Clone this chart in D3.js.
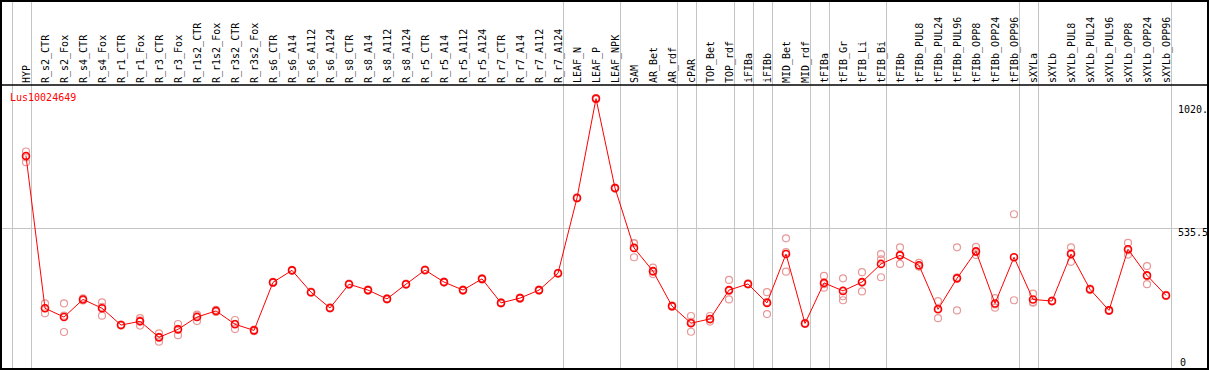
<!DOCTYPE html>
<html>
<head>
<meta charset="utf-8">
<script src="https://cdn.jsdelivr.net/npm/d3@7"></script>
<style>
    body { margin: 0; background: #fff; }
    svg { display: block; }
    text { font-family: "DejaVu Sans Mono", monospace; font-size: 10px; }
</style>
</head>
<body>
<svg id="chart" width="1209" height="370"></svg>
<script>
const geneName = "Lus10024649";

const categories = [
    "HYP", "R_s2_CTR", "R_s2_Fox", "R_s4_CTR", "R_s4_Fox", "R_r1_CTR", "R_r1_Fox",
    "R_r3_CTR", "R_r3_Fox", "R_r1s2_CTR", "R_r1s2_Fox", "R_r3s2_CTR", "R_r3s2_Fox",
    "R_s6_CTR", "R_s6_A14", "R_s6_A112", "R_s6_A124", "R_s8_CTR", "R_s8_A14",
    "R_s8_A112", "R_s8_A124", "R_r5_CTR", "R_r5_A14", "R_r5_A112", "R_r5_A124",
    "R_r7_CTR", "R_r7_A14", "R_r7_A112", "R_r7_A124", "LEAF_N", "LEAF_P", "LEAF_NPK",
    "SAM", "AR_Bet", "AR_rdf", "cPAR", "TOP_Bet", "TOP_rdf", "iFIBa", "iFIBb",
    "MID_Bet", "MID_rdf", "tFIBa", "tFIB_Gr", "tFIB_Li", "tFIB_Bi", "tFIBb",
    "tFIBb_PUL8", "tFIBb_PUL24", "tFIBb_PUL96", "tFIBb_OPP8", "tFIBb_OPP24",
    "tFIBb_OPP96", "sXYLa", "sXYLb", "sXYLb_PUL8", "sXYLb_PUL24", "sXYLb_PUL96",
    "sXYLb_OPP8", "sXYLb_OPP24", "sXYLb_OPP96"
];

// mean expression per sample
const means = [
    805, 235, 202, 268, 235, 172, 186, 126, 156, 202, 225, 175, 152,
    332, 377, 295, 236, 325, 303, 270, 325, 378, 333, 303, 345,
    255, 273, 303, 366, 648, 1020, 685,
    461, 374, 243, 179, 195, 303, 326, 255, 438, 178,
    330, 300, 333, 401, 433, 396, 231, 347, 448, 253, 426,
    268, 262, 438, 306, 227, 456, 358, 283
];

// replicate values per sample
const replicates = [
    [822, 800, 782], [253, 235, 216], [253, 207, 146], [272, 264], [257, 240, 207],
    [174, 170], [198, 190, 170], [141, 128, 110], [176, 158, 134], [211, 207, 187],
    [229, 221], [191, 177, 157], [155, 149],
    [334, 330], [379, 375], [297, 293], [238, 234], [327, 323], [305, 301],
    [272, 268], [327, 323], [380, 376], [335, 331], [305, 301], [347, 343],
    [257, 253], [275, 271], [305, 301], [368, 364],
    [650, 646], [1022, 1018], [687, 683],
    [478, 479, 426], [387, 372, 363], [245, 241], [206, 184, 147], [206, 193, 185],
    [341, 300, 268], [328, 324], [295, 258, 213], [497, 445, 372], [180, 176],
    [356, 325, 312], [347, 280, 265], [370, 331, 298], [438, 418, 351],
    [463, 435, 401], [405, 392, 391], [262, 233, 198], [463, 351, 227],
    [465, 445, 434], [273, 249, 237], [587, 426, 265],
    [290, 258, 256], [264, 260], [463, 442, 409], [309, 303], [229, 225],
    [480, 452, 436], [393, 356, 325], [285, 281]
];

// group separators are drawn after these sample indices
const groupEnds = [-1, 0, 28, 31, 34, 35, 37, 38, 39, 41, 42, 45, 52, 53, 60];

const yTickValues = [1020, 535.5, 0];
const yTickLabels = ["1020.", "535.5", "0"];
const yGridValues = [535.5];

const W = 1209, H = 370;
const headerBottom = 85;

const svg = d3.select("#chart");

const x = d3.scaleLinear()
    .domain([0, categories.length - 1])
    .range([26, 1166]);

const y = d3.scaleLinear()
    .domain([0, 1071])
    .range([371, headerBottom]);

// gray grid
svg.append("g")
    .selectAll("line")
    .data(groupEnds)
    .enter().append("line")
    .attr("x1", d => Math.round(x(d + 0.25)) + 0.5)
    .attr("x2", d => Math.round(x(d + 0.25)) + 0.5)
    .attr("y1", 0)
    .attr("y2", H)
    .attr("stroke", "#c4c4c4")
    .attr("stroke-width", 1);

svg.append("g")
    .selectAll("line")
    .data(yGridValues)
    .enter().append("line")
    .attr("x1", 0)
    .attr("x2", W)
    .attr("y1", d => Math.round(y(d)) + 0.5)
    .attr("y2", d => Math.round(y(d)) + 0.5)
    .attr("stroke", "#c4c4c4")
    .attr("stroke-width", 1);

// header separator and frame
svg.append("line")
    .attr("x1", 0).attr("x2", W)
    .attr("y1", headerBottom).attr("y2", headerBottom)
    .attr("stroke", "#000")
    .attr("stroke-width", 1.5);

svg.append("rect")
    .attr("x", 1).attr("y", 1)
    .attr("width", W - 2).attr("height", H - 2)
    .attr("fill", "none")
    .attr("stroke", "#000")
    .attr("stroke-width", 2);

// sample labels, rotated
svg.append("g")
    .selectAll("text")
    .data(categories)
    .enter().append("text")
    .attr("transform", (d, i) => `translate(${x(i)},${headerBottom - 2}) rotate(-90)`)
    .attr("dy", "0.35em")
    .attr("fill", "#000")
    .text(d => d);

// right axis labels
svg.append("g")
    .selectAll("text")
    .data(yTickValues)
    .enter().append("text")
    .attr("x", (d, i) => x(categories.length - 1) + (yTickLabels[i].length === 1 ? 14 : 12))
    .attr("y", d => Math.min(Math.max(y(d) + 4, 109), 362))
    .attr("dy", "0.35em")
    .attr("fill", "#000")
    .text((d, i) => yTickLabels[i]);

// gene title
svg.append("text")
    .attr("x", 10)
    .attr("y", 101)
    .attr("fill", "#ff0000")
    .text(geneName);

// replicates
const repPoints = [];
replicates.forEach((reps, i) => reps.forEach(v => repPoints.push({ i, v })));

svg.append("g")
    .selectAll("circle")
    .data(repPoints)
    .enter().append("circle")
    .attr("cx", d => x(d.i))
    .attr("cy", d => y(d.v))
    .attr("r", 3.5)
    .attr("fill", "none")
    .attr("stroke", "#e89898")
    .attr("stroke-width", 1.2);

// mean line
const line = d3.line()
    .x((d, i) => x(i))
    .y(d => y(d));

svg.append("path")
    .datum(means)
    .attr("d", line)
    .attr("fill", "none")
    .attr("stroke", "#ff0000")
    .attr("stroke-width", 1);

svg.append("g")
    .selectAll("circle")
    .data(means)
    .enter().append("circle")
    .attr("cx", (d, i) => x(i))
    .attr("cy", d => y(d))
    .attr("r", 3.5)
    .attr("fill", "none")
    .attr("stroke", "#ff0000")
    .attr("stroke-width", 1.6);
</script>
</body>
</html>
